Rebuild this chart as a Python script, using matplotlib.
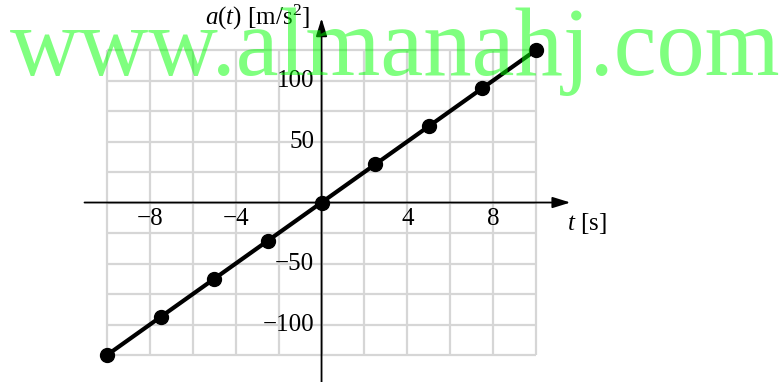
import matplotlib
matplotlib.use("Agg")
import matplotlib.pyplot as plt

# Acceleration a(t) sampled every 2.5 s
t_values = [-10, -7.5, -5, -2.5, 0, 2.5, 5, 7.5, 10]
a_values = [-125, -93.75, -62.5, -31.25, 0, 31.25, 62.5, 93.75, 125]

x_tick_values = [-8, -4, 4, 8]
x_tick_labels = ["\u22128", "\u22124", "4", "8"]
y_tick_values = [100, 50, -50, -100]
y_tick_labels = ["100", "50", "\u221250", "\u2212100"]

grid_t = [-10, -8, -6, -4, -2, 0, 2, 4, 6, 8, 10]
grid_a = [-125, -100, -75, -50, -25, 0, 25, 50, 75, 100, 125]

plt.rcParams["mathtext.fontset"] = "custom"
plt.rcParams["mathtext.rm"] = "Liberation Serif"
plt.rcParams["mathtext.it"] = "Liberation Serif:italic"
SERIF = "Liberation Serif"

fig = plt.figure(figsize=(7.81, 3.82), dpi=100)
ax = fig.add_axes([0, 0, 1, 1])
ax.set_axis_off()
ax.set_xlim(-14.99, 21.42)
ax.set_ylim(-147.1, 166.0)

# light grid limited to the plotted range
grid_color = "#d6d6d6"
ax.vlines(grid_t, grid_a[0], grid_a[-1], colors=grid_color, lw=1.6, zorder=1)
ax.hlines(grid_a, grid_t[0], grid_t[-1], colors=grid_color, lw=1.6, zorder=1)

# axes through the origin with arrow heads
arrow = dict(arrowstyle="-|>,head_length=0.9,head_width=0.28", color="black",
             lw=1.3, mutation_scale=12, shrinkA=0, shrinkB=0)
ax.annotate("", xy=(11.6, 0), xytext=(-11.05, 0), arrowprops=arrow, zorder=2)
ax.annotate("", xy=(0, 151), xytext=(0, -150), arrowprops=arrow, zorder=2)

# tick labels
for v, s in zip(x_tick_values, x_tick_labels):
    ax.text(v, -13.5, s, ha="center", va="center", fontsize=18, family=SERIF)
for v, s in zip(y_tick_values, y_tick_labels):
    ax.text(-0.35, v, s, ha="right", va="center", fontsize=18, family=SERIF)

# axis labels
ax.text(-0.55, 152, r"$a$($t$) [m/s$^2$]", ha="right", va="center",
        fontsize=18, family=SERIF)
ax.text(11.44, -16.8, r"$t$ [s]", ha="left", va="center",
        fontsize=18, family=SERIF)

# data line with dots
ax.plot(t_values, a_values, color="black", lw=3.0, marker="o",
        markersize=10, zorder=3, solid_capstyle="round")

# watermark
fig.text(10 / 781, 1 - 75 / 382, "www.almanahj.com", ha="left", va="baseline",
         fontsize=69.5, family=SERIF, color="#00ff00", alpha=0.5, zorder=10)

fig.savefig("out.png", dpi=100)
